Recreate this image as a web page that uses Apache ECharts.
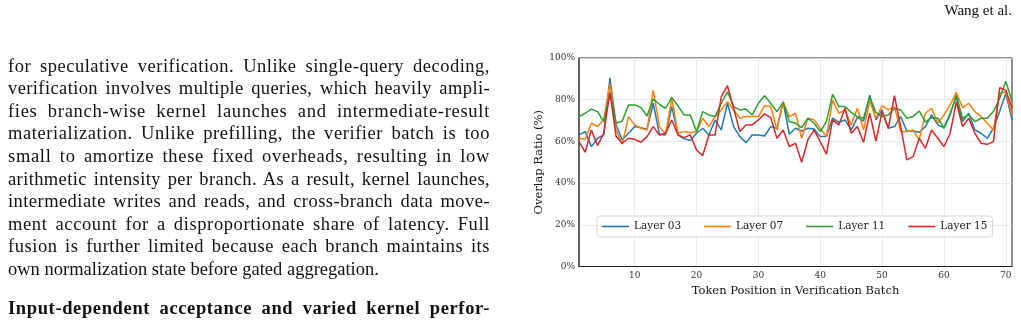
<!DOCTYPE html>
<html>
<head>
<meta charset="utf-8">
<script src="https://cdn.jsdelivr.net/npm/echarts@6/dist/echarts.min.js"></script>
<style>
  html, body { margin: 0; padding: 0; background: #fff; }
  body { width: 1021px; height: 322px; position: relative; overflow: hidden; }
  #chart { position: absolute; left: 0; top: 0; width: 1021px; height: 322px; }
  .txt { position: absolute; font-family: "Liberation Serif", serif; color: #111; }
  #body { left: 8px; top: 54.6px; width: 482px; font-size: 18.5px; line-height: 22.6px; }
  #body div { white-space: nowrap; height: 22.6px; }
  #body div span { display: inline-block; }
  #body div.head { font-weight: bold; margin-top: 16.7px; }
  #runhead { right: 9px; top: 2px; font-size: 15px; }
</style>
</head>
<body>
<div id="chart"></div>
<div class="txt" id="runhead">Wang et al.</div>
<div class="txt" id="body">
  <div class="j"><span>for speculative verification. Unlike single-query decoding,</span></div>
  <div class="j"><span>verification involves multiple queries, which heavily ampli-</span></div>
  <div class="j"><span>fies branch-wise kernel launches and intermediate-result</span></div>
  <div class="j"><span>materialization. Unlike prefilling, the verifier batch is too</span></div>
  <div class="j"><span>small to amortize these fixed overheads, resulting in low</span></div>
  <div class="j"><span>arithmetic intensity per branch. As a result, kernel launches,</span></div>
  <div class="j"><span>intermediate writes and reads, and cross-branch data move-</span></div>
  <div class="j"><span>ment account for a disproportionate share of latency. Full</span></div>
  <div class="j"><span>fusion is further limited because each branch maintains its</span></div>
  <div class="last"><span>own normalization state before gated aggregation.</span></div>
  <div class="j head"><span>Input-dependent acceptance and varied kernel perfor-</span></div>
</div>
<script>
// spread each justified line partly through letter spacing, rest through word spacing
(function () {
  const target = 482;
  document.querySelectorAll("#body div.j span").forEach(function (sp) {
    const text = sp.textContent;
    const natural = sp.getBoundingClientRect().width;
    const extra = target - natural;
    if (extra <= 0) return;
    const nChars = text.length - 1;
    const nSpaces = (text.match(/ /g) || []).length;
    const ls = (extra * 0.6) / nChars;
    sp.style.letterSpacing = ls + "px";
    const w2 = sp.getBoundingClientRect().width;
    const rest = target - w2;
    if (nSpaces > 0) sp.style.wordSpacing = (rest / nSpaces) + "px";
  });
})();
</script>
<script>
const positions = [1,2,3,4,5,6,7,8,9,10,11,12,13,14,15,16,17,18,19,20,21,22,23,24,25,26,27,28,29,30,31,32,33,34,35,36,37,38,39,40,41,42,43,44,45,46,47,48,49,50,51,52,53,54,55,56,57,58,59,60,61,62,63,64,65,66,67,68,69,70,71];

const layer03 = [63.1,64.7,57.5,61.5,63.1,90.5,67.9,60.7,63.9,67.1,66.6,65.8,78.3,63.4,63.1,76.7,63.1,61.2,60.4,63.9,66.3,63.1,70.3,65.5,78.3,67.1,62.3,59.4,63.1,63.1,62.6,67.1,66.3,79.0,63.4,66.3,65.0,66.3,66.0,62.3,62.3,71.1,69.2,70.3,65.5,71.4,69.8,82.2,70.3,75.1,66.3,67.1,71.9,65.0,65.0,64.4,67.1,72.7,67.9,66.6,73.5,81.4,69.5,73.5,65.5,63.9,61.5,66.3,74.3,83.0,70.3];

const layer07 = [61.5,61.0,68.7,67.1,70.3,87.8,65.5,58.6,71.9,67.9,66.3,65.5,84.6,67.1,63.4,80.6,63.9,64.7,64.2,64.7,71.1,67.1,71.9,75.1,79.0,75.1,71.1,71.9,71.9,71.9,77.1,76.7,65.5,79.0,71.9,73.5,61.5,71.1,70.3,66.3,62.3,79.8,73.5,75.1,67.9,75.9,65.5,79.4,71.1,77.1,75.1,76.7,64.7,64.7,65.5,60.7,73.5,75.9,68.7,72.7,77.5,83.5,76.2,78.3,74.3,71.9,68.7,65.5,83.0,83.8,72.7];

const layer11 = [71.9,73.5,75.5,74.3,69.5,83.0,68.7,69.8,77.5,77.5,76.3,72.2,80.3,77.8,75.9,81.1,77.0,72.7,72.7,64.7,74.3,72.7,71.9,78.3,83.8,76.7,75.1,75.5,72.7,78.3,81.9,78.3,74.3,78.7,69.5,68.7,66.6,71.1,68.7,64.7,69.5,82.6,76.7,76.7,73.9,71.9,71.1,81.4,73.9,71.9,72.7,75.9,75.1,71.1,71.9,74.6,69.2,71.4,71.1,66.3,72.7,82.2,71.1,72.7,69.5,71.1,71.1,74.3,80.6,88.9,79.0];

const layer15 = [59.9,54.8,65.5,58.0,63.9,83.5,62.3,59.1,61.5,61.0,59.6,62.3,67.1,63.1,63.9,70.3,63.1,61.8,63.1,55.9,53.2,63.1,63.1,81.5,86.7,75.9,64.7,67.9,67.9,70.3,73.2,71.4,61.5,65.5,57.5,59.1,50.0,60.7,65.5,59.9,53.9,70.3,67.9,75.9,63.9,67.1,59.6,73.5,60.2,74.3,66.3,81.9,67.1,51.1,52.7,61.5,56.7,65.5,61.5,57.5,63.9,79.0,67.1,71.1,63.9,59.1,58.6,59.9,85.7,84.6,75.9];

const seriesNames = ["Layer 03", "Layer 07", "Layer 11", "Layer 15"];
const seriesValues = [layer03, layer07, layer11, layer15];
const xTickValues = [10, 20, 30, 40, 50, 60, 70];
const colors = ["#1f77b4", "#ff7f0e", "#2ca02c", "#d62728"];

const font = "DejaVu Serif";
const chart = echarts.init(document.getElementById("chart"), null, { renderer: "canvas" });

chart.setOption({
  animation: false,
  color: colors,
  grid: {
    left: 579, right: 9, top: 58, bottom: 55.5,
    show: true, borderColor: "#222", borderWidth: 1, backgroundColor: "transparent"
  },
  legend: {
    data: seriesNames,
    left: 597, top: 216,
    orient: "horizontal",
    icon: "rect",
    itemWidth: 27, itemHeight: 1.6,
    itemGap: 23,
    padding: [5, 5],
    backgroundColor: "rgba(255,255,255,0.85)",
    borderColor: "#d5d5d5", borderWidth: 1, borderRadius: 3,
    textStyle: { fontFamily: font, fontSize: 10.5, color: "#222" }
  },
  xAxis: {
    type: "value",
    min: 1, max: 71,
    name: "Token Position in Verification Batch",
    nameLocation: "middle",
    nameGap: 13,
    nameTextStyle: { fontFamily: font, fontSize: 11.5, color: "#111" },
    axisLine: { show: true, lineStyle: { color: "#222", width: 1.2 } },
    axisTick: { show: false, customValues: xTickValues },
    axisLabel: { customValues: xTickValues, fontFamily: font, fontSize: 9, color: "#333", margin: 5 },
    splitLine: { show: true, lineStyle: { color: "#e4e4e4", width: 0.8 } }
  },
  yAxis: {
    type: "value",
    min: 0, max: 100, interval: 20,
    name: "Overlap Ratio (%)",
    nameLocation: "middle",
    nameGap: 29,
    nameTextStyle: { fontFamily: font, fontSize: 11.5, color: "#111" },
    axisLine: { show: true, lineStyle: { color: "#555", width: 1.5 } },
    axisTick: { show: false },
    axisLabel: { formatter: "{value}%", fontFamily: font, fontSize: 9, color: "#333", margin: 4 },
    splitLine: { show: true, lineStyle: { color: "#e4e4e4", width: 0.8 } }
  },
  series: seriesNames.map((name, i) => ({
    name: name,
    type: "line",
    showSymbol: false,
    symbol: "none",
    lineStyle: { width: 1.5, color: colors[i] },
    itemStyle: { color: colors[i] },
    data: positions.map((p, j) => [p, seriesValues[i][j]])
  }))
});
</script>
</body>
</html>
